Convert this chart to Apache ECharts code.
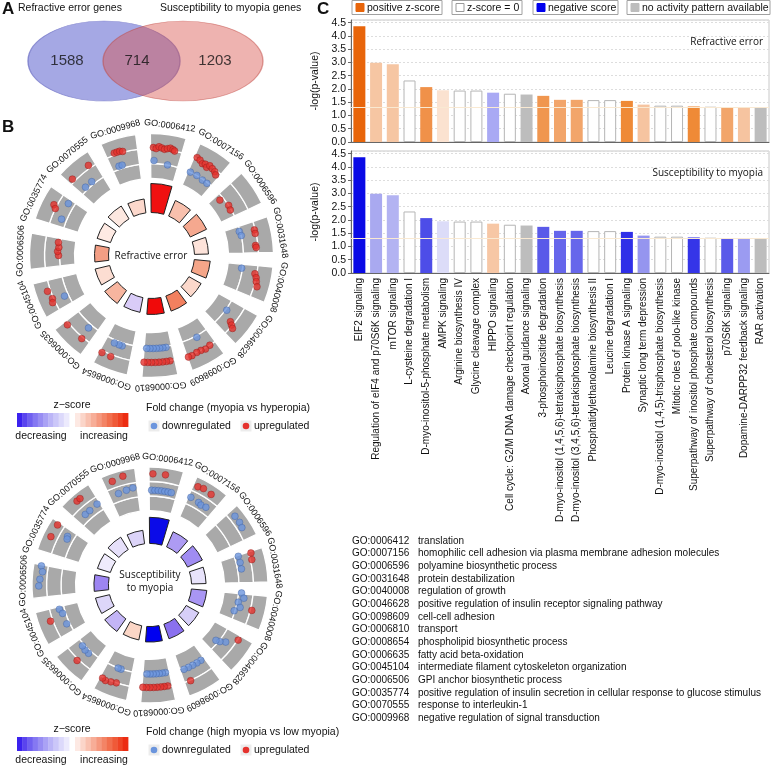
<!DOCTYPE html>
<html><head><meta charset="utf-8">
<script src="https://cdn.jsdelivr.net/npm/echarts@6/dist/echarts.min.js"></script>
<style>html,body{margin:0;padding:0;background:#fff}#c{width:778px;height:766px}</style>
</head><body><div id="c"></div>
<script>
// ================= DATA =================
const vennSets = ['Refractive error genes', 'Susceptibility to myopia genes'];
const vennCounts = [1588, 714, 1203];

const goIds = ['GO:0006412','GO:0007156','GO:0006596','GO:0031648','GO:0040008','GO:0046628','GO:0098609','GO:0006810','GO:0008654','GO:0006635','GO:0045104','GO:0006506','GO:0035774','GO:0070555','GO:0009968'];
const goNames = ['translation','homophilic cell adhesion via plasma membrane adhesion molecules','polyamine biosynthetic process','protein destabilization','regulation of growth','positive regulation of insulin receptor signaling pathway','cell-cell adhesion','transport','phospholipid biosynthetic process','fatty acid beta-oxidation','intermediate filament cytoskeleton organization','GPI anchor biosynthetic process','positive regulation of insulin secretion in cellular response to glucose stimulus','response to interleukin-1','negative regulation of signal transduction'];

// inner ring bar heights and z-score colours
const reZHeight = [29, 17, 18, 14, 16, 14, 16, 16, 15, 16, 15, 14, 14, 15, 14];
const reZColor = ['#f01010','#f8c0ad','#f5a88f','#fde3da','#f5a689','#fbd8cb','#f2805f','#f00a0a','#d9ccf8','#f7b59f','#fcddd2','#f39e84','#feeae3','#fde8e0','#fcd8cc'];
const smZHeight = [27, 17, 17, 15, 16, 15, 16, 16, 15, 16, 15, 15, 14, 15, 14];
const smZColor = ['#0b0be8','#ad9bf3','#a08cf2','#e8e3fb','#a996f4','#d7cff8','#8a70ef','#0000f0','#fbd6c6','#c3b5f6','#ddd6f9','#9d85f2','#efebfc','#e6e0fa','#dcd4f8'];

// genes: [radial logFC level, angle]
const reUp = [[108,1],[107,2.5],[109,4],[108,5.5],[107,7],[108,8.5],[109,10],[108,11.5],[107,12.5],
 [108,25],[107,27],[105,29],[106,30.5],[104,32],[107,33],[106,35],[105,37],[103,38.5],
 [88,51],[92,57],[91,60],[106,76],[106,78],[104.5,84.5],[105,85.6],
 [105,100],[107,102],[108,104],[110,106.5],[103,130],[106,131],[109,132],
 [107,147],[108,150],[107,152.5],[107,155],[108,158],[108,160],
 [107,170],[107,172],[107,174],[107,176],[107,178],[107,180],[107,182],[107,184],
 [109,202],[109,207],[109,230.5],[108.5,220],[110,251],[108,246.5],[109.5,244.5],
 [93,270],[94,272.5],[93,275],[94,278],[110,297.5],[107,296],[110,325],[110,314],
 [109,340],[109,341.5],[109,343],[108,344.5]];
const reDown = [[95,1.5],[92,10],[92,25],[92,29.5],[91,34],[91,37.5],[91,74.7],[92,77.5],[91,98],[93,126],[93.5,151],
 [93,171],[93,173],[93,175],[93,177],[93,179],[93,181],[93,183],[95,198],[95,200],[95,203],[96,221],[96,245],
 [98,302],[97,292],[95,316],[95,321],[95,340],[95,342]];
const smUp = [[115,1.5],[115,8],[113,26],[114,29],[113,34],[109.5,72.4],[108.5,76],[108.5,104],[107.5,122],[107.5,157],
 [106,170],[106,172],[106,174],[106,176],[106,178],[106,180],[106,182],[106,184],
 [107,199],[108,202],[109,205],[108,207],[108.5,224],[109.5,250],[114,303],[114,296],[115,319],[115,321],[114,340],[116,346]];
const smDown = [[98,1],[98,3],[98,5],[98,7],[98,9],[98,11],[98,13],[100,25],[99,30.5],[98,32.5],[99,35.7],
 [113,51],[113,55],[112,58],[96,72],[96,76],[96,80],[95,95],[98,98],[93,101],[96,104],[91,107],
 [98,127],[93,129],[89,130],[94,146],[94,149],[94,152],[94,155],[94,158],
 [92,170],[92,172],[92,174],[92,176],[92,178],[92,180],[92,182],[92,199],[92,201],
 [95,222],[95,225],[94,228],[97,255],[95,252],[95,245],[114,280],[112,277],[114,273],[115,269.5],
 [99,300.5],[98,299],[99,317.5],[99,321],[100,326.8],[100,341],[101,346],[102,350]];

// Panel C: canonical pathways
const pathways = ['EIF2 signaling','Regulation of eIF4 and p70S6K signaling','mTOR signaling','L-cysteine degradation I','D-myo-inositol-5-phosphate metabolism','AMPK signaling','Arginine biosynthesis IV','Glycine cleavage complex','HIPPO signaling','Cell cycle: G2/M DNA damage checkpoint regulation','Axonal guidance signaling','3-phosphoinositide degradation','D-myo-inositol (1,4,5,6)-tetrakisphosphate biosynthesis','D-myo-inositol (3,4,5,6)-tetrakisphosphate biosynthesis','Phosphatidylethanolamine biosynthesis II','Leucine degradation I','Protein kinase A signaling','Synaptic long term depression','D-myo-inositol (1,4,5)-trisphosphate biosynthesis','Mitotic roles of polo-like kinase','Superpathway of inositol phosphate compounds','Superpathway of cholesterol biosynthesis','p70S6K signaling','Dopamine-DARPP32 feedback signaling','RAR activation'];
const logP = [4.36, 2.99, 2.93, 2.32, 2.07, 1.95, 1.94, 1.94, 1.86, 1.82, 1.79, 1.74, 1.59, 1.59, 1.58, 1.58, 1.55, 1.41, 1.37, 1.37, 1.34, 1.33, 1.30, 1.30, 1.29];
const reBarColor = ['#e8650a','#f6c6a3','#f6c6a3','#ffffff','#f09149','#fbe2d0','#ffffff','#ffffff','#a9a9f4','#ffffff','#bdbdbd','#f0964f','#f2a56a','#f2a56a','#ffffff','#ffffff','#ef8a37','#f6c4a0','#ffffff','#ffffff','#ef8a37','#ffffff','#f2a56a','#f6c4a0','#bdbdbd'];
const smBarColor = ['#0a0ae6','#a9a9f0','#b3b3f2','#ffffff','#4d4de8','#dcdcf8','#ffffff','#ffffff','#f7c7a5','#ffffff','#bdbdbd','#5a5ae9','#6666eb','#6666eb','#ffffff','#ffffff','#2f2fe8','#9595ef','#ffffff','#ffffff','#3535e8','#ffffff','#5a5ae9','#9b9bf1','#bdbdbd'];
const yTicks = [0, 4.6, 0.5]; // min, max, interval
const threshold = 1.3;

const legendC = [['positive z-score','#e8650a'],['z-score = 0','#ffffff'],['negative score','#0000ee'],['no activity pattern available','#bdbdbd']];

// ================= STYLE / LAYOUT =================
const FONT = 'Liberation Sans, Arial, Helvetica, sans-serif';
const FONT2 = 'Open Sans, Noto Sans, sans-serif';
const GRAY_IN = 77, TRACK = 15, Z_IN = 43, LABEL_R = 131;
const blueSteps = ['#3b22ee','#5a44ee','#7060f0','#8578f2','#988df3','#aaa2f5','#bbb5f7','#cbc7f9','#dcd9fb','#eceafd'];
const redSteps = ['#fde9e3','#fbd5c9','#f9c1b0','#f7ad97','#f5987e','#f38466','#f16f4e','#ef5a38','#ee4425','#ec2c12'];

const chart = echarts.init(document.getElementById('c'), null, {renderer:'canvas', width:778, height:766});

function txt(x, y, t, opts) {
  opts = opts || {};
  return {type:'text', x:x, y:y, silent:true, z:10,
    style:{text:t, fill:opts.fill||'#111', font:(opts.weight||'normal')+' '+(opts.size||11)+'px '+(opts.family||FONT),
      textAlign:opts.align||'left', textVerticalAlign:opts.va||'middle', lineHeight:opts.lh}};
}

const graphics = [];
graphics.push(txt(2, 9, 'A', {size:17, weight:'bold', family:'Liberation Sans, Arial'}));
graphics.push(txt(2, 127, 'B', {size:17, weight:'bold', family:'Liberation Sans, Arial'}));
graphics.push(txt(317, 9, 'C', {size:17, weight:'bold', family:'Liberation Sans, Arial'}));
graphics.push(txt(18, 8, vennSets[0], {size:10.5}));
graphics.push(txt(160, 8, vennSets[1], {size:10.5}));
graphics.push(txt(151, 256, 'Refractive error', {size:10, align:'center', family:FONT2}));
graphics.push(txt(150, 582, 'Susceptibility\nto myopia', {size:10, align:'center', family:FONT2, lh:13}));
graphics.push(txt(763, 42, 'Refractive error', {size:10, align:'right', family:FONT2}));
graphics.push(txt(763, 173, 'Susceptibility to myopia', {size:10, align:'right', family:FONT2}));

(function(){
  const boxes = [[352,442],[452,522],[533,618],[627,770]];
  legendC.forEach(function(l, i){
    const b = boxes[i];
    graphics.push({type:'rect', shape:{x:b[0], y:0.5, width:b[1]-b[0], height:14}, style:{fill:'#fff', stroke:'#a0a0a0', lineWidth:1}, z:5});
    graphics.push({type:'rect', shape:{x:b[0]+4, y:3.5, width:8, height:8}, style:{fill:l[1], stroke: l[1]==='#ffffff' ? '#999' : l[1], lineWidth:1}, z:6});
    graphics.push(txt(b[0]+15, 8, l[0], {size:10.5}));
  });
})();

function circleLegend(y0, title) {
  graphics.push(txt(72, y0, 'z\u2212score', {size:10.5, align:'center'}));
  blueSteps.forEach(function(c, k){ graphics.push({type:'rect', shape:{x:17+k*5.2, y:y0+8, width:5.6, height:14}, style:{fill:c}, z:5}); });
  redSteps.forEach(function(c, k){ graphics.push({type:'rect', shape:{x:75+k*5.3, y:y0+8, width:5.7, height:14}, style:{fill:c}, z:5}); });
  graphics.push(txt(41, y0+31, 'decreasing', {size:10.5, align:'center'}));
  graphics.push(txt(104, y0+31, 'increasing', {size:10.5, align:'center'}));
  graphics.push(txt(146, y0+3, title, {size:10.5}));
  [[154,'#6b95dd','downregulated'],[246,'#e5322d','upregulated']].forEach(function(k){
    graphics.push({type:'rect', shape:{x:k[0]-5.5, y:y0+15.5, width:11, height:11}, style:{fill:'#ececec'}, z:5});
    graphics.push({type:'circle', shape:{cx:k[0], cy:y0+21, r:3.3}, style:{fill:k[1]}, z:6});
    graphics.push(txt(k[0]+8, y0+21, k[2], {size:10.5}));
  });
}
circleLegend(405, 'Fold change (myopia vs hyperopia)');
circleLegend(729, 'Fold change (high myopia vs low myopia)');

goIds.forEach(function(id, i){
  const y = 541 + i*12.65;
  graphics.push(txt(352, y, id, {size:10}));
  graphics.push(txt(418, y, goNames[i], {size:10}));
});

// ================= POLAR (panel B) =================
const polars = [
  {center:[151.5,255.5], radius:[0,140]},
  {center:[151.5,255.5], radius:[0,140]},
  {center:[150,585], radius:[0,135.4]},
  {center:[150,585], radius:[0,135.4]}
];
const angleAxes = [], radiusAxes = [];
[0,2].forEach(function(p){
  angleAxes.push({polarIndex:p, type:'category', data:goIds, startAngle:94, clockwise:true, show:false});
  angleAxes.push({polarIndex:p+1, type:'value', min:0, max:360, startAngle:90, clockwise:true, show:false});
  radiusAxes.push({polarIndex:p, type:'value', min:0, max:140, show:false});
  radiusAxes.push({polarIndex:p+1, type:'value', min:0, max:140, show:false});
});

function circleSeries(p, zH, zC, up, down) {
  const s = [];
  const common = {type:'bar', coordinateSystem:'polar', polarIndex:p, barCategoryGap:'29%', barGap:'-100%', silent:true, animation:false};
  s.push(Object.assign({}, common, {stack:'g'+p, data:goIds.map(function(){return GRAY_IN;}), itemStyle:{color:'rgba(0,0,0,0)'}}));
  for (let t = 0; t < 3; t++) {
    s.push(Object.assign({}, common, {stack:'g'+p, data:goIds.map(function(){return TRACK;}), itemStyle:{color:'#a9a9a9', borderColor:'#ffffff', borderWidth:1.3}}));
  }
  s.push(Object.assign({}, common, {stack:'z'+p, data:goIds.map(function(){return Z_IN;}), itemStyle:{color:'rgba(0,0,0,0)'}}));
  s.push(Object.assign({}, common, {stack:'z'+p, data:zH.map(function(h,i){return {value:h, itemStyle:{color:zC[i]}};}), itemStyle:{borderColor:'#222', borderWidth:1}}));
  s.push({type:'scatter', coordinateSystem:'polar', polarIndex:p+1, data:down, symbolSize:6.8, silent:true, animation:false,
    itemStyle:{color:'#6b95dd', borderColor:'#3d5d9a', borderWidth:0.5}, z:5});
  s.push({type:'scatter', coordinateSystem:'polar', polarIndex:p+1, data:up, symbolSize:6.8, silent:true, animation:false,
    itemStyle:{color:'#e5322d', borderColor:'#8a1a16', borderWidth:0.5}, z:6});
  s.push({type:'custom', coordinateSystem:'polar', polarIndex:p+1, silent:true, animation:false,
    data: goIds.map(function(id, i){ return [LABEL_R, i*24+8, i]; }),
    renderItem: function(params, api){
      const r = api.value(0), th = api.value(1), idx = api.value(2);
      const pt = api.coord([r, th]);
      return {type:'text', x:pt[0], y:pt[1], rotation:-th*Math.PI/180,
        style:{text:goIds[idx], fill:'#111', font:'9px '+FONT, textAlign:'center', textVerticalAlign:'middle'}};
    }});
  return s;
}

// ================= PANEL C bars =================
function barData(colors) {
  return logP.map(function(v, i){
    const c = colors[i];
    return {value:v, itemStyle:{color:c, borderColor: c==='#ffffff' ? '#b5b5b5' : c, borderWidth: c==='#ffffff' ? 1 : 0}};
  });
}
function yAx(gi) {
  return {gridIndex:gi, type:'value', min:yTicks[0], max:yTicks[1], interval:yTicks[2],
    name:'-log(p-value)', nameLocation:'middle', nameGap:24, nameRotate:90,
    nameTextStyle:{fontSize:10.5, color:'#111', fontFamily:FONT},
    axisLine:{show:true, lineStyle:{color:'#666'}}, axisTick:{show:true, length:3, lineStyle:{color:'#666'}},
    axisLabel:{fontSize:10.5, color:'#111', fontFamily:FONT, margin:5, showMaxLabel:false, formatter:function(v){return v.toFixed(1);}},
    splitLine:{show:true, lineStyle:{color:'#dddddd', type:[2,2]}}};
}
const markLine = {silent:true, symbol:'none', label:{show:false}, lineStyle:{color:'#f9e9d2', width:1, type:'solid'}, data:[{yAxis:threshold}]};

const option = {
  animation:false,
  backgroundColor:'#ffffff',
  grid:[
    {left:351, top:20, width:418, height:122, show:true, borderColor:'#c8c8c8', borderWidth:1},
    {left:351, top:151, width:418, height:122, show:true, borderColor:'#c8c8c8', borderWidth:1},
    {left:0, top:0, width:300, height:110}
  ],
  xAxis:[
    {gridIndex:0, type:'category', data:pathways, axisLabel:{show:false}, axisTick:{show:false}, axisLine:{lineStyle:{color:'#666'}}},
    {gridIndex:1, type:'category', data:pathways, axisTick:{show:false}, axisLine:{lineStyle:{color:'#666'}},
      axisLabel:{rotate:90, fontSize:10, color:'#111', fontFamily:FONT, margin:5, interval:0}},
    {gridIndex:2, type:'value', min:0, max:300, show:false}
  ],
  yAxis:[yAx(0), yAx(1), {gridIndex:2, type:'value', min:0, max:110, inverse:true, show:false}],
  polar:polars,
  angleAxis:angleAxes,
  radiusAxis:radiusAxes,
  series:[
    {type:'bar', xAxisIndex:0, yAxisIndex:0, data:barData(reBarColor), barWidth:12, markLine:markLine},
    {type:'bar', xAxisIndex:1, yAxisIndex:1, data:barData(smBarColor), barWidth:12, markLine:markLine},
    {type:'scatter', xAxisIndex:2, yAxisIndex:2, silent:true, symbol:'circle',
      data:[{value:[104,61], symbolSize:[152,80], itemStyle:{color:'#8e92dd', borderColor:'#7477c8', borderWidth:1}},
            {value:[183,61], symbolSize:[160,80], itemStyle:{color:'rgba(217,83,74,0.55)', borderColor:'rgba(190,70,62,0.6)', borderWidth:1}}]},
    {type:'scatter', xAxisIndex:2, yAxisIndex:2, silent:true, symbolSize:0, z:5,
      data:[[67,61,vennCounts[0]],[137,61,vennCounts[1]],[215,61,vennCounts[2]]],
      label:{show:true, position:'inside', color:'#111', fontSize:15, fontFamily:FONT, formatter:function(p){return String(p.value[2]);}}}
  ].concat(circleSeries(0, reZHeight, reZColor, reUp, reDown), circleSeries(2, smZHeight, smZColor, smUp, smDown)),
  graphic:{elements:graphics}
};
chart.setOption(option);
</script>
</body></html>
